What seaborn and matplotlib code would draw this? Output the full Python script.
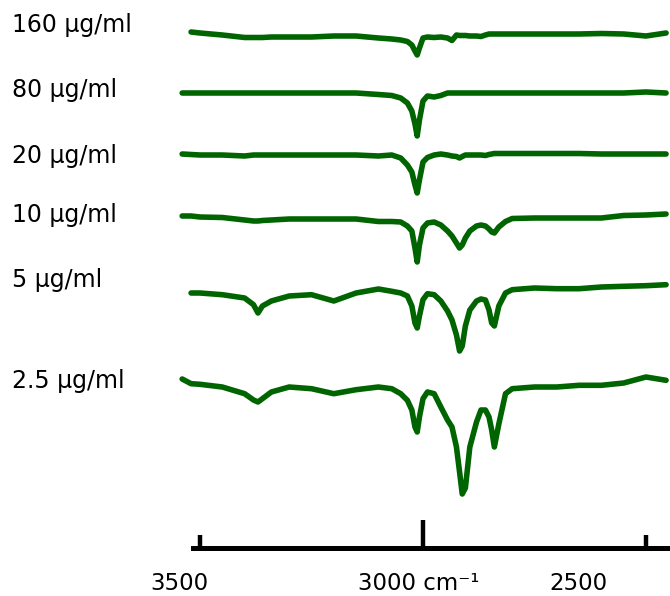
import numpy as np
import pandas as pd
import matplotlib
matplotlib.use("Agg")
import matplotlib.pyplot as plt
import seaborn as sns

# wavenumber grid (cm-1) shared by all traces
wavenumber = [3540, 3520, 3500, 3450, 3400, 3380, 3370, 3360, 3340, 3300,
              3250, 3200, 3150, 3100, 3070, 3050, 3035, 3025, 3018, 3013,
              3008, 3000, 2990, 2975, 2960, 2945, 2935, 2925, 2918, 2912,
              2905, 2895, 2880, 2870, 2860, 2852, 2846, 2840, 2830, 2815,
              2800, 2750, 2700, 2650, 2600, 2550, 2500, 2455]

labels = ["160 µg/ml", "80 µg/ml", "20 µg/ml", "10 µg/ml", "5 µg/ml", "2.5 µg/ml"]
# vertical stacking of each spectrum
offsets = [34, 93, 155, 217, 293, 382]

nan = np.nan
s160 = [nan, 2, 1, -1, -3.5, -3.5, -3.5, -3.5, -3, -3,
        -3, -2, -2, -4, -5, -6, -7.5, -11, -17, -21,
        -14, -4, -3, -3.5, -3, -4, -6.5, -1, -1.5, -1.5,
        -1.5, -2, -2, -2.5, -1, 0, 0, 0, 0, 0,
        0, 0, 0, 0, 0.5, 0, -2, 1]
s80 = [0, 0, 0, 0, 0, 0, 0, 0, 0, 0,
       0, 0, 0, -1.5, -2.5, -5, -10, -18, -31, -43,
       -27, -8, -3, -4, -2.5, 0, 0, 0, 0, 0,
       0, 0, 0, 0, 0, 0, 0, 0, 0, 0,
       0, 0, 0, 0, 0, 0, 1, 0]
s20 = [1, 0.5, 0, 0, -1, 0, 0, 0, 0, 0,
       0, 0, 0, -1, 0, -3, -10, -17, -30, -38,
       -25, -7, -2.5, 0, 1, 0, -1, -1.5, -3, -1.5,
       0, 0, 0, 0, -0.5, 0.5, 1, 1.5, 1.5, 1.5,
       1.5, 1.5, 1.5, 1.5, 1, 1, 1, 1]
s10 = [1, 1, 0, -0.5, -3, -4, -4, -3.5, -3, -2,
       -2, -2, -2, -4.5, -4.5, -5, -9, -14, -31, -45,
       -28, -11, -6, -5, -8, -14, -19, -26, -31, -28,
       -21, -14, -9, -8, -9, -12, -15, -16, -10, -4.5,
       -1.5, -1, -1, -1, -1, 1.5, 2, 3]
s5 = [nan, 0, 0, -1.7, -5, -11.7, -20, -13, -8, -3,
      -1.7, -8, 0, 4, 1.7, 0, -3, -13, -30, -35,
      -23, -6.7, -0.7, -1.7, -8, -18, -27, -42, -58, -53,
      -33, -17, -8, -6, -7, -17, -30, -33, -13, 0,
      3.3, 5, 4.3, 4.3, 6, 6.7, 7.3, 8.3]
s2_5 = [3, -1.7, -2.3, -5, -11.7, -18, -20, -16.7, -10, -5,
        -6.7, -11.7, -7.7, -5, -6.7, -11.7, -18.3, -28, -45, -50,
        -35, -16.7, -10, -11.7, -25, -38, -45, -65, -90, -112,
        -106, -65, -40, -28, -28, -35, -48, -65, -42, -11.7,
        -6.7, -5, -5, -3.3, -3.3, -1, 5, 1.7]
spectra = [s160, s80, s20, s10, s5, s2_5]

label_y = [32, 97, 163, 222, 287, 388]

sns.set_style("white")
plt.rcParams["font.family"] = ["DejaVu Sans"]
plt.rcParams["text.color"] = "black"

fig = plt.figure(figsize=(6.7, 5.96), dpi=100)
ax = fig.add_axes([0, 0, 1, 1])
green = "#006400"

for lab, off, sig in zip(labels, offsets, spectra):
    df = pd.DataFrame({"wn": wavenumber, "t": sig})
    df["y"] = -off + df["t"]
    sns.lineplot(data=df, x="wn", y="y", ax=ax, color=green, lw=4,
                 sort=False, estimator=None)

for lab, ly in zip(labels, label_y):
    ax.text(3921, -ly, lab, fontsize=17, ha="left", va="baseline", color="black")

ax.set_xlim(3948.4, 2446.2)
ax.set_ylim(-596, 0)
ax.set_xlabel("")
ax.set_ylabel("")

# wavenumber axis drawn as a single bottom spine
for side in ["top", "left", "right"]:
    ax.spines[side].set_visible(False)
ax.spines["bottom"].set_position(("data", -548))
ax.spines["bottom"].set_bounds(3516, 2451)
ax.spines["bottom"].set_linewidth(3.6)
ax.spines["bottom"].set_color("black")
ax.set_xticks([3000])
ax.set_xticks([3500, 2500], minor=True)
ax.tick_params(axis="x", which="major", bottom=True, direction="in", length=20,
               width=3.2, labelbottom=False, color="black")
ax.tick_params(axis="x", which="minor", bottom=True, direction="in", length=9.5,
               width=3.2, color="black")
ax.set_yticks([])

ax.text(3547, -590, "3500", fontsize=16.5, ha="center", va="baseline", color="black")
ax.text(3009, -590, "3000 cm⁻¹", fontsize=16.5, ha="center", va="baseline", color="black")
ax.text(2652, -590, "2500", fontsize=16.5, ha="center", va="baseline", color="black")

fig.savefig("out.png", dpi=100)
